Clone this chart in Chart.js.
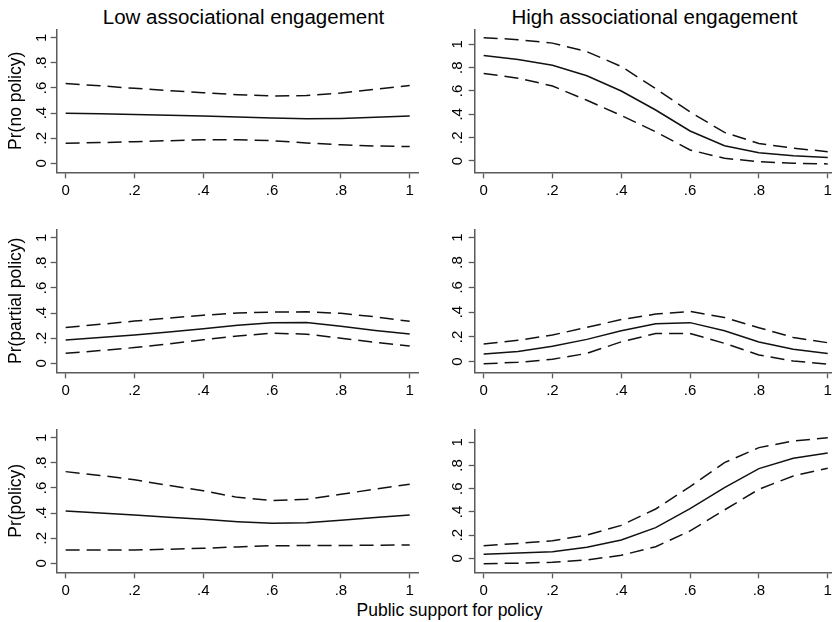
<!DOCTYPE html>
<html>
<head>
<meta charset="utf-8">
<script src="https://cdn.jsdelivr.net/npm/chart.js@4.4.1/dist/chart.umd.min.js"></script>
<style>
  html, body { margin: 0; padding: 0; background: #fff; width: 832px; height: 622px; overflow: hidden; }
  #wrap { position: relative; width: 832px; height: 622px; overflow: hidden; }
  canvas { position: absolute; }
  .t { position: absolute; font-family: "Liberation Sans", Arial, sans-serif; color: #000; text-align: center; line-height: 1; white-space: nowrap; }
</style>
</head>
<body>
<div id="wrap">
  <div class="t" style="left:43.5px; width:400px; top:7px; font-size:20.5px;">Low associational engagement</div>
  <div class="t" style="left:454.5px; width:400px; top:7px; font-size:20.5px;">High associational engagement</div>
  <div class="t" style="left:249.5px; width:400px; top:602px; font-size:17.5px;">Public support for policy</div>
</div>
<script>
// ---- data ----
const xs = [0, 0.1, 0.2, 0.3, 0.4, 0.5, 0.6, 0.7, 0.8, 0.9, 1];
const xTicks = [0, 0.2, 0.4, 0.6, 0.8, 1];
const xTickLabels = ["0", ".2", ".4", ".6", ".8", "1"];
const yTicks = [0, 0.2, 0.4, 0.6, 0.8, 1];
const yTickLabels = ["0", ".2", ".4", ".6", ".8", "1"];
const columnTitles = ["Low associational engagement", "High associational engagement"];
const rowTitles = ["Pr(no policy)", "Pr(partial policy)", "Pr(policy)"];

// Low associational engagement
const lowNoMean    = [0.398, 0.394, 0.388, 0.382, 0.376, 0.368, 0.360, 0.354, 0.357, 0.366, 0.377];
const lowNoUpper   = [0.636, 0.617, 0.597, 0.579, 0.562, 0.546, 0.536, 0.540, 0.560, 0.590, 0.620];
const lowNoLower   = [0.160, 0.165, 0.172, 0.180, 0.187, 0.188, 0.180, 0.162, 0.147, 0.138, 0.133];

const lowPartMean  = [0.185, 0.205, 0.225, 0.250, 0.276, 0.302, 0.322, 0.325, 0.295, 0.262, 0.233];
const lowPartUpper = [0.285, 0.310, 0.336, 0.360, 0.383, 0.400, 0.408, 0.410, 0.398, 0.370, 0.334];
const lowPartLower = [0.080, 0.101, 0.125, 0.155, 0.187, 0.217, 0.240, 0.232, 0.200, 0.167, 0.138];

const lowPolMean   = [0.416, 0.400, 0.385, 0.367, 0.350, 0.331, 0.318, 0.322, 0.343, 0.365, 0.385];
const lowPolUpper  = [0.730, 0.700, 0.665, 0.620, 0.578, 0.525, 0.500, 0.510, 0.550, 0.590, 0.630];
const lowPolLower  = [0.106, 0.105, 0.106, 0.112, 0.120, 0.130, 0.140, 0.141, 0.142, 0.144, 0.146];

// High associational engagement
const highNoMean    = [0.903, 0.870, 0.820, 0.730, 0.600, 0.437, 0.257, 0.130, 0.070, 0.045, 0.030];
const highNoUpper   = [1.057, 1.040, 1.010, 0.937, 0.810, 0.620, 0.420, 0.245, 0.150, 0.110, 0.080];
const highNoLower   = [0.750, 0.710, 0.643, 0.520, 0.390, 0.250, 0.094, 0.023, -0.006, -0.020, -0.025];

const highPartMean  = [0.062, 0.082, 0.124, 0.180, 0.250, 0.306, 0.315, 0.250, 0.159, 0.100, 0.067];
const highPartUpper = [0.142, 0.172, 0.215, 0.277, 0.340, 0.384, 0.405, 0.357, 0.274, 0.196, 0.153];
const highPartLower = [-0.016, -0.005, 0.020, 0.067, 0.160, 0.228, 0.228, 0.148, 0.054, 0.005, -0.019];

const highPolMean   = [0.034, 0.045, 0.057, 0.095, 0.158, 0.264, 0.428, 0.610, 0.773, 0.862, 0.908];
const highPolUpper  = [0.109, 0.128, 0.152, 0.200, 0.284, 0.425, 0.618, 0.825, 0.954, 1.011, 1.040];
const highPolLower  = [-0.046, -0.042, -0.034, -0.014, 0.026, 0.100, 0.236, 0.417, 0.595, 0.710, 0.776];

// ---- layout / drawing ----
Chart.defaults.font.family = '"Liberation Sans", Arial, sans-serif';
Chart.defaults.color = '#000';

const AXIS = '#5a5a5a';
const LINE = '#111';

const panels = [
  { row: 0, col: 0, mean: lowNoMean,   up: lowNoUpper,   lo: lowNoLower,   ymin: -0.0717, ymax: 1.067 },
  { row: 0, col: 1, mean: highNoMean,  up: highNoUpper,  lo: highNoLower,  ymin: -0.097,  ymax: 1.1285 },
  { row: 1, col: 0, mean: lowPartMean, up: lowPartUpper, lo: lowPartLower, ymin: -0.0717, ymax: 1.067 },
  { row: 1, col: 1, mean: highPartMean,up: highPartUpper,lo: highPartLower,ymin: -0.0855, ymax: 1.0677 },
  { row: 2, col: 0, mean: lowPolMean,  up: lowPolUpper,  lo: lowPolLower,  ymin: -0.0717, ymax: 1.067 },
  { row: 2, col: 1, mean: highPolMean, up: highPolUpper, lo: highPolLower, ymin: -0.1207, ymax: 1.112 }
];

const wrap = document.getElementById('wrap');

function pts(arr) { return xs.map((x, i) => ({ x: x, y: arr[i] })); }

panels.forEach(p => {
  const left = p.col === 0 ? 0 : 416;
  const yAxisW = p.col === 0 ? 56.7 : 58.7;
  const W = Math.round(yAxisW + 362.3);
  const H = 200;
  const top = p.row * 200;
  const cv = document.createElement('canvas');
  cv.width = W; cv.height = H;
  cv.style.left = left + 'px'; cv.style.top = top + 'px';
  cv.style.width = W + 'px'; cv.style.height = H + 'px';
  wrap.appendChild(cv);

  const ds = (arr, dashed) => ({
    data: pts(arr),
    borderColor: LINE,
    borderWidth: 1.5,
    borderDash: dashed ? [14, 7] : [],
    pointRadius: 0,
    tension: 0,
    fill: false
  });

  new Chart(cv, {
    type: 'line',
    data: { datasets: [ds(p.up, true), ds(p.mean, false), ds(p.lo, true)] },
    options: {
      responsive: false,
      animation: false,
      devicePixelRatio: 1,
      layout: { padding: { top: 29.3, left: 0, right: W - yAxisW - 362.3, bottom: 0 } },
      plugins: { legend: { display: false }, tooltip: { enabled: false }, title: { display: false } },
      scales: {
        x: {
          type: 'linear',
          min: -0.026, max: 1.027,
          afterBuildTicks: s => { s.ticks = xTicks.map(v => ({ value: v })); },
          afterFit: s => { s.height = H - 172.3; s.paddingLeft = 0; s.paddingRight = 0; },
          ticks: {
            autoSkip: false, maxRotation: 0, minRotation: 0, padding: 4,
            font: { size: 15 }, color: '#000',
            callback: (v, i) => xTickLabels[i]
          },
          grid: { display: true, drawOnChartArea: false, drawTicks: true, tickLength: 6, tickColor: AXIS, tickWidth: 1.3 },
          border: { display: true, color: AXIS, width: 1.5 }
        },
        y: {
          type: 'linear',
          min: p.ymin, max: p.ymax,
          afterBuildTicks: s => { s.ticks = yTicks.map(v => ({ value: v })); },
          afterFit: s => { s.width = yAxisW; s.paddingTop = 0; s.paddingBottom = 0; },
          ticks: {
            autoSkip: false, minRotation: 90, maxRotation: 90, crossAlign: 'center',
            padding: p.col === 0 ? 3 : 5,
            font: { size: 15 }, color: '#000',
            callback: (v, i) => yTickLabels[i]
          },
          grid: { display: true, drawOnChartArea: false, drawTicks: true, tickLength: 6, tickColor: AXIS, tickWidth: 1.3 },
          border: { display: true, color: AXIS, width: 1.5 },
          title: {
            display: p.col === 0,
            text: rowTitles[p.row],
            font: { size: 17.5 },
            color: '#000',
            padding: { top: 6, bottom: 0 }
          }
        }
      }
    }
  });
});
</script>
</body>
</html>
